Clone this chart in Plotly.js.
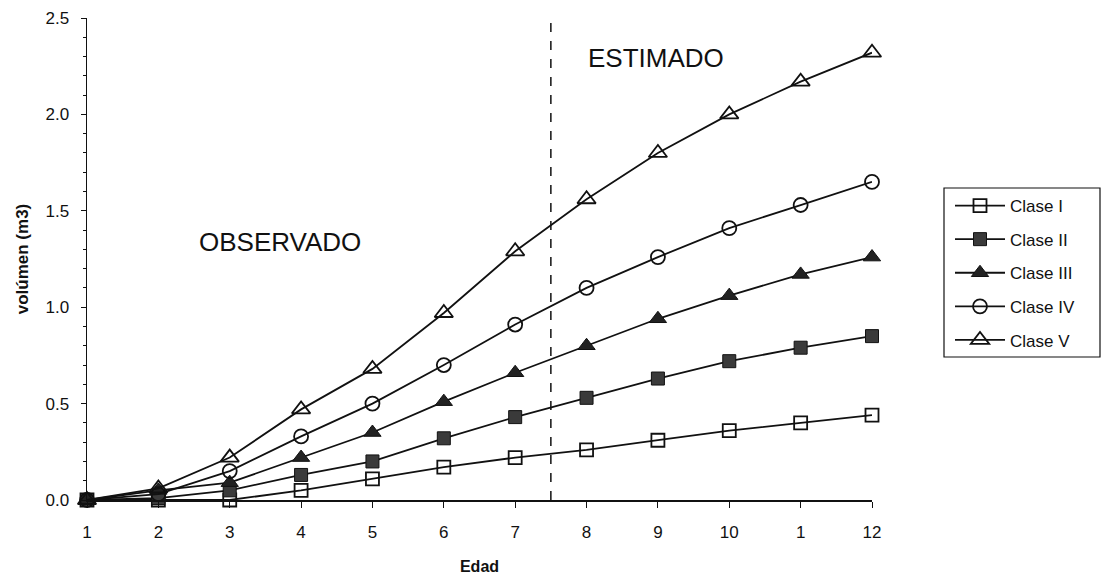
<!DOCTYPE html>
<html>
<head>
<meta charset="utf-8">
<script src="https://cdn.plot.ly/plotly-3.0.1.min.js"></script>
<style>html,body{margin:0;padding:0;background:#fff;}#chart{width:1106px;height:581px;}</style>
</head>
<body>
<div id="chart"></div>
<script>
const edad = [1,2,3,4,5,6,7,8,9,10,11,12];
const tickLabels = ["1","2","3","4","5","6","7","8","9","10","1","12"];
const claseI   = [0,0.00,0.00,0.05,0.11,0.17,0.22,0.26,0.31,0.36,0.40,0.44];
const claseII  = [0,0.01,0.05,0.13,0.20,0.32,0.43,0.53,0.63,0.72,0.79,0.85];
const claseIII = [0,0.05,0.09,0.22,0.35,0.51,0.66,0.80,0.94,1.06,1.17,1.26];
const claseIV  = [0,0.03,0.15,0.33,0.50,0.70,0.91,1.10,1.26,1.41,1.53,1.65];
const claseV   = [0,0.06,0.22,0.47,0.68,0.97,1.29,1.56,1.80,2.00,2.17,2.32];
const seriesNames = ["Clase I","Clase II","Clase III","Clase IV","Clase V"];
const limiteEdad = 7.5;
const limiteTop = 2.53;

const series = [claseI, claseII, claseIII, claseIV, claseV];
const markers = [
  {symbol:'square-open', size:13, color:'#111', line:{width:1.8,color:'#111'}},
  {symbol:'square', size:13, color:'#3a3a3a', line:{width:1,color:'#111'}},
  {symbol:'triangle-up', size:15, color:'#222', line:{width:1,color:'#111'}},
  {symbol:'circle-open', size:14, color:'#111', line:{width:1.8,color:'#111'}},
  {symbol:'triangle-up-open', size:16, color:'#111', line:{width:1.8,color:'#111'}}
];
const traces = series.map((s,i)=>({
  x: edad, y: s, name: seriesNames[i], type:'scatter', mode:'lines+markers',
  line:{color:'#111', width:1.8}, marker: Object.assign({}, markers[i]),
  legendgroup: 'g'+i, cliponaxis:false
}));

const plotL = 87, plotR = 872, plotT = 18, plotB = 500, W = 1106, H = 581;
const px = v => (v - plotL) / (plotR - plotL);
const py = v => (plotB - v) / (plotB - plotT);

const layout = {
  width:W, height:H,
  margin:{l:plotL, r:W-plotR, t:plotT, b:H-plotB},
  paper_bgcolor:'#fff', plot_bgcolor:'#fff',
  font:{family:'"Liberation Sans", Arial, sans-serif', color:'#111', size:17},
  showlegend:true,
  legend:{x:px(950), y:py(188), xanchor:'left', yanchor:'top', borderwidth:0,
    font:{size:17}, tracegroupgap:8.5, traceorder:'grouped', bgcolor:'rgba(0,0,0,0)', itemwidth:50},
  xaxis:{range:[1,12], tickvals:edad, ticktext:tickLabels, showgrid:false, zeroline:false,
    showline:true, linecolor:'#111', linewidth:1.5, ticks:'outside', ticklen:6, tickcolor:'#111',
    ticklabelstandoff:10,
    title:{text:'<b>Edad</b>', font:{size:16}, standoff:20}, tickfont:{size:17}},
  yaxis:{range:[0,2.5], dtick:0.5, tickformat:'.1f', showgrid:false, zeroline:false,
    showline:true, linecolor:'#111', linewidth:1.5, ticks:'outside', ticklen:5, tickcolor:'#111',
    ticklabelstandoff:8,
    minor:{dtick:0.1, ticks:'outside', ticklen:3, tickcolor:'#111'},
    title:{text:'<b>volúmen (m3)</b>', font:{size:17}, standoff:12}, tickfont:{size:17}},
  shapes:[
    {type:'line', xref:'x', yref:'y', x0:limiteEdad, x1:limiteEdad, y0:0, y1:limiteTop,
      line:{color:'#111', width:1.5, dash:'dash'}},
    {type:'line', xref:'x', yref:'y', x0:limiteEdad-0.1, x1:limiteEdad+0.1, y0:limiteTop, y1:limiteTop,
      line:{color:'#111', width:2}},
    {type:'rect', xref:'paper', yref:'paper', x0:px(944), x1:px(1100), y0:py(357), y1:py(188),
      line:{color:'#111', width:1.2}}
  ],
  annotations:[
    {text:'OBSERVADO', x:3.7, y:1.34, xref:'x', yref:'y', showarrow:false, font:{size:26}},
    {text:'ESTIMADO', x:8.98, y:2.29, xref:'x', yref:'y', showarrow:false, font:{size:26}}
  ]
};
Plotly.newPlot('chart', traces, layout, {displayModeBar:false, staticPlot:true});
</script>
</body>
</html>
